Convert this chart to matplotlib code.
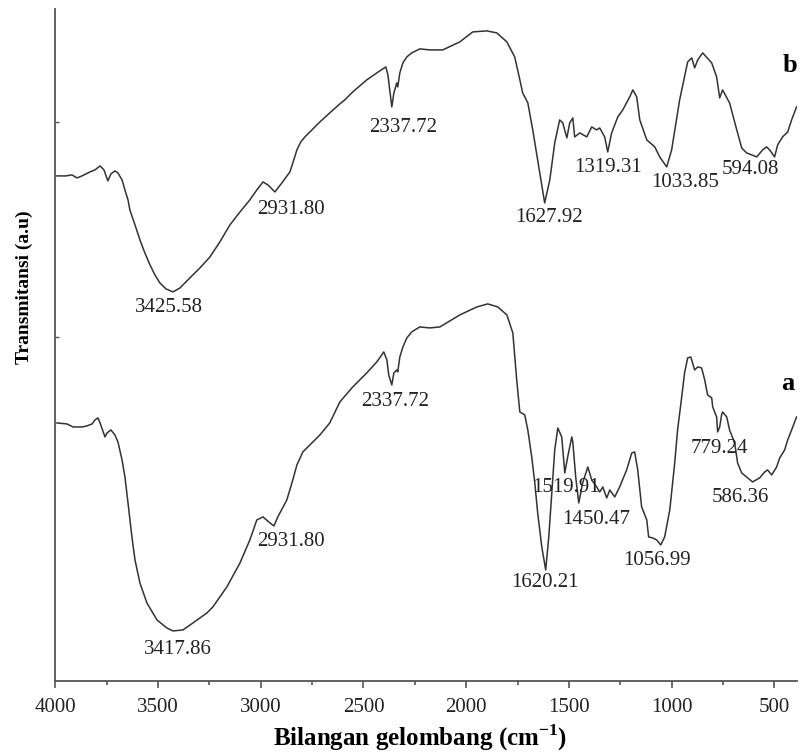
import matplotlib
matplotlib.use("Agg")
import matplotlib.pyplot as plt
from matplotlib.ticker import MultipleLocator

plt.rcParams['font.family'] = ['Liberation Serif', 'DejaVu Serif']
plt.rcParams['mathtext.fontset'] = 'custom'
plt.rcParams['mathtext.rm'] = 'Liberation Serif'
plt.rcParams['mathtext.bf'] = 'Liberation Serif:bold'

# FTIR spectrum b (upper curve), wavenumber in cm-1, transmittance in a.u.
wn_b = [3992, 3948, 3919, 3894, 3870, 3831, 3807, 3782, 3763, 3744, 3729, 3710,
        3695, 3675, 3661, 3646, 3637, 3612, 3588, 3564, 3539, 3515, 3491, 3461,
        3427, 3393, 3345, 3296, 3247, 3199, 3150, 3101, 3053, 3019, 2989, 2965,
        2931, 2897, 2858, 2839, 2824, 2805, 2785, 2751, 2712, 2664, 2615, 2591,
        2552, 2484, 2435, 2391, 2381, 2372, 2362, 2352, 2338, 2333, 2323, 2308,
        2289, 2265, 2226, 2177, 2114, 2031, 1968, 1900, 1851, 1802, 1764, 1744,
        1725, 1700, 1676, 1642, 1618, 1593, 1569, 1545, 1530, 1510, 1496, 1481,
        1472, 1447, 1413, 1389, 1365, 1350, 1326, 1311, 1292, 1262, 1238, 1204,
        1189, 1170, 1155, 1121, 1082, 1058, 1024, 1000, 961, 922, 902, 888,
        873, 849, 805, 781, 766, 752, 718, 683, 659, 635, 586, 557,
        538, 523, 499, 484, 460, 435, 416, 392]
t_b = [506, 506, 507, 504, 506, 510, 512, 516, 512, 501, 508, 511,
       509, 502, 492, 482, 472, 457, 442, 429, 417, 407, 399, 393,
       390, 394, 404, 414, 425, 440, 457, 470, 482, 492, 500, 497,
       490, 499, 510, 522, 532, 540, 545, 552, 560, 569, 578, 582,
       590, 602, 609, 615, 607, 592, 575, 589, 599, 595, 609, 619,
       625, 629, 633, 632, 632, 640, 650, 651, 649, 640, 625, 607,
       589, 579, 552, 509, 479, 502, 539, 562, 559, 544, 559, 564,
       545, 549, 545, 555, 552, 554, 545, 530, 549, 565, 572, 585,
       592, 585, 562, 542, 535, 525, 515, 532, 582, 620, 624, 614,
       622, 629, 619, 605, 584, 592, 579, 552, 534, 529, 525, 532,
       535, 532, 525, 537, 545, 550, 562, 575]

# FTIR spectrum a (lower curve)
wn_a = [3992, 3943, 3914, 3894, 3870, 3846, 3821, 3807, 3792, 3782, 3758, 3748,
        3729, 3710, 3695, 3675, 3661, 3646, 3627, 3612, 3588, 3554, 3505, 3457,
        3427, 3379, 3330, 3262, 3233, 3165, 3101, 3053, 3019, 2989, 2955, 2936,
        2917, 2873, 2844, 2824, 2795, 2746, 2712, 2664, 2615, 2552, 2484, 2435,
        2401, 2386, 2377, 2362, 2352, 2338, 2333, 2323, 2308, 2289, 2265, 2226,
        2177, 2128, 2031, 1948, 1895, 1846, 1802, 1773, 1754, 1739, 1715, 1700,
        1681, 1666, 1652, 1632, 1613, 1598, 1579, 1569, 1554, 1535, 1520, 1506,
        1486, 1481, 1467, 1452, 1433, 1408, 1389, 1365, 1350, 1335, 1316, 1301,
        1277, 1253, 1219, 1194, 1180, 1165, 1146, 1121, 1112, 1092, 1073, 1053,
        1034, 1009, 985, 971, 951, 937, 922, 907, 898, 888, 873, 854,
        839, 825, 805, 800, 781, 776, 766, 757, 752, 732, 718, 693,
        679, 659, 630, 606, 572, 547, 533, 513, 489, 474, 450, 435,
        416, 392]
t_a = [259, 258, 255, 255, 255, 256, 258, 262, 264, 259, 245, 249,
       252, 247, 240, 222, 205, 179, 145, 122, 99, 79, 62, 54,
       51, 52, 59, 69, 75, 95, 119, 142, 162, 165, 159, 156,
       165, 182, 202, 217, 230, 240, 247, 259, 280, 295, 309, 320,
       330, 322, 307, 297, 309, 312, 310, 325, 335, 344, 350, 355,
       354, 355, 367, 375, 378, 375, 367, 349, 302, 270, 267, 252,
       225, 199, 169, 135, 112, 145, 202, 232, 254, 245, 209, 225,
       245, 240, 205, 179, 199, 215, 202, 195, 190, 195, 184, 192,
       185, 195, 212, 229, 230, 212, 175, 162, 145, 144, 142, 137,
       145, 172, 219, 252, 285, 309, 324, 325, 319, 312, 315, 314,
       302, 287, 284, 275, 265, 250, 255, 267, 270, 265, 252, 239,
       219, 209, 204, 200, 204, 210, 212, 207, 215, 224, 232, 242,
       252, 265]

# Peak labels for each spectrum
peaks_b = ['3425.58', '2931.80', '2337.72', '1627.92', '1319.31', '1033.85', '594.08']
peaks_a = ['3417.86', '2931.80', '2337.72', '1620.21', '1519.91', '1450.47',
           '1056.99', '779.24', '586.36']

xticks = [4000, 3500, 3000, 2500, 2000, 1500, 1000, 500]

fig = plt.figure(figsize=(8.0, 7.54), dpi=100)
ax = fig.add_axes([0.0691, 0.0962, 0.9271, 0.892])

line_color = '#333333'
ax.plot(wn_b, t_b, color=line_color, lw=1.1)
ax.plot(wn_a, t_a, color=line_color, lw=1.1)

ax.set_xlim(4000, 390)
ax.set_ylim(0.5, 673)

# peak annotations (wavenumber, transmittance position of label centre)
pos_b = [(3447, 374), (2853, 472), (2308, 554), (1598, 464), (1311, 514),
         (932, 499), (615, 512)]
pos_a = [(3403, 32), (2853, 140), (2347, 280), (1618, 99), (1515, 194),
         (1369, 162), (1073, 121), (766, 233), (664, 184)]
for txt, (x, y) in zip(peaks_b, pos_b):
    ax.text(x, y, txt, ha='center', va='center', fontsize=15, color='#222222')
for txt, (x, y) in zip(peaks_a, pos_a):
    ax.text(x, y, txt, ha='center', va='center', fontsize=15, color='#222222')

ax.text(458, 610, 'b', fontsize=19, fontweight='bold', ha='left', va='baseline',
        clip_on=False)
ax.text(465, 292, 'a', fontsize=19, fontweight='bold', ha='left', va='baseline',
        clip_on=False)

# axes styling
for side in ['top', 'right']:
    ax.spines[side].set_visible(False)
for side in ['left', 'bottom']:
    ax.spines[side].set_color('#555555')
    ax.spines[side].set_linewidth(1.3)

ax.set_xticks(xticks)
ax.set_xticklabels([str(v) for v in xticks])
ax.xaxis.set_minor_locator(MultipleLocator(250))
ax.tick_params(axis='x', which='major', direction='out', length=5, width=1.2,
               color='#555555', labelsize=15, pad=7, labelcolor='#222222')
ax.tick_params(axis='x', which='minor', direction='out', length=3, width=1.2,
               color='#555555')
ax.set_yticks([345, 560])
ax.tick_params(axis='y', which='major', direction='in', length=3, width=1,
               color='#555555', labelleft=False)

ax.set_xlabel(r'Bilangan gelombang (cm$^{\mathbf{-1}}$)', fontsize=18,
              fontweight='bold', va='center')
ax.xaxis.set_label_coords(0.492, -0.083)
ax.set_ylabel('Transmitansi (a.u)', fontsize=14, fontweight='bold', va='center')
ax.yaxis.set_label_coords(-0.042, 0.586)

fig.savefig('out.png', dpi=100)
